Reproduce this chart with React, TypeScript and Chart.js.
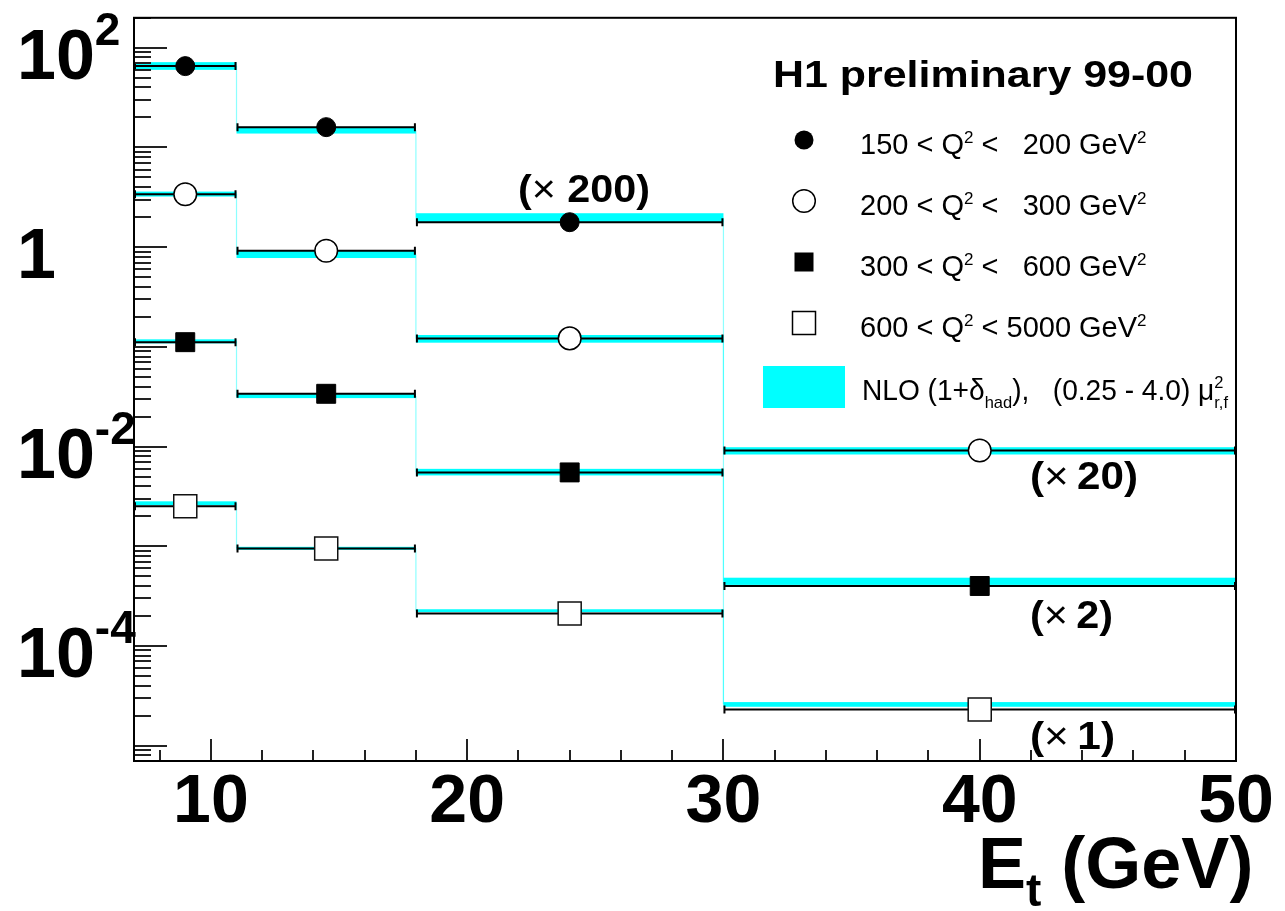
import React, { useEffect, useRef } from 'react';
import { Chart, registerables } from 'chart.js';
Chart.register(...registerables);

// ---------- data ----------
const binEdges = [7, 11, 18, 30, 50];
const binCenters = [9, 14.5, 24, 40];
const xTickValues = [10, 20, 30, 40, 50];
const xTickLabels = ['10', '20', '30', '40', '50'];
const xMinorTicks = [8, 12, 14, 16, 18, 22, 24, 26, 28, 32, 34, 36, 38, 42, 44, 46, 48];
const yLabelExponents = [2, 0, -2, -4];

// data points (scaled as in the plot)
const q150Data = [65.5, 16.0, 1.78, null]; // x200
const q200Data = [3.39, 0.92, 0.1216, 0.00912]; // x20
const q300Data = [0.1114, 0.0338, 0.0055, 3.99e-4]; // x2
const q600Data = [2.52e-3, 9.48e-4, 2.11e-4, 2.3e-5]; // x1

// NLO band low / high
const q150NloLow = [60.1, 13.8, 1.78, null];
const q150NloHigh = [71.8, 16.1, 2.19, null];
const q200NloLow = [3.22, 0.778, 0.1101, 0.00832];
const q200NloHigh = [3.61, 0.92, 0.1315, 0.00984];
const q300NloLow = [0.1084, 0.0306, 0.00513, 4.09e-4];
const q300NloHigh = [0.1189, 0.0338, 0.00597, 4.83e-4];
const q600NloLow = [2.57e-3, 9.2e-4, 2.18e-4, 2.45e-5];
const q600NloHigh = [2.82e-3, 9.86e-4, 2.33e-4, 2.73e-5];
// level that the x200 theory histogram drops to after its last bin
const q150NloDrop = 2.6e-5;

const legendLabels = [
  { lo: '150', hi: '200' },
  { lo: '200', hi: '300' },
  { lo: '300', hi: '600' },
  { lo: '600', hi: '5000' },
];
const scaleNotes = ['200', '20', '2', '1'];

const FONT = '"Liberation Sans", Arial, Helvetica, sans-serif';
const CYAN = '#00ffff';

type Seg = { t: string; size: number; bold?: boolean; dy?: number; noAdvance?: boolean };

function fontOf(s: Seg) {
  return `${s.bold ? 'bold ' : ''}${s.size}px ${FONT}`;
}

function segsWidth(ctx: CanvasRenderingContext2D, segs: Seg[]) {
  let w = 0;
  for (const s of segs) {
    ctx.font = fontOf(s);
    if (!s.noAdvance) w += ctx.measureText(s.t).width;
  }
  return w;
}

function drawSegs(
  ctx: CanvasRenderingContext2D,
  segs: Seg[],
  x: number,
  y: number,
  align: 'left' | 'center' | 'right' = 'left',
  targetWidth?: number,
  color = '#000'
) {
  const W = segsWidth(ctx, segs);
  const k = targetWidth ? targetWidth / W : 1;
  const x0 = align === 'center' ? x - (W * k) / 2 : align === 'right' ? x - W * k : x;
  ctx.save();
  ctx.translate(x0, y);
  ctx.scale(k, 1);
  ctx.fillStyle = color;
  ctx.textAlign = 'left';
  ctx.textBaseline = 'alphabetic';
  let cx = 0;
  for (const s of segs) {
    ctx.font = fontOf(s);
    ctx.fillText(s.t, cx, s.dy || 0);
    if (!s.noAdvance) cx += ctx.measureText(s.t).width;
  }
  ctx.restore();
}

type Series = {
  data: (number | null)[];
  low: (number | null)[];
  high: (number | null)[];
  drop?: number;
};

const seriesList: Series[] = [
  { data: q150Data, low: q150NloLow, high: q150NloHigh, drop: q150NloDrop },
  { data: q200Data, low: q200NloLow, high: q200NloHigh },
  { data: q300Data, low: q300NloLow, high: q300NloHigh },
  { data: q600Data, low: q600NloLow, high: q600NloHigh },
];

const toPoints = (arr: (number | null)[]) =>
  arr
    .map((v, i) => (v == null ? null : { x: binCenters[i], y: v }))
    .filter((p) => p !== null) as { x: number; y: number }[];

const h1Plugin = {
  id: 'h1plot',
  beforeDatasetsDraw(chart: any) {
    const ctx: CanvasRenderingContext2D = chart.ctx;
    const xs = chart.scales.x;
    const ys = chart.scales.y;
    const area = chart.chartArea;
    ctx.save();
    ctx.beginPath();
    ctx.rect(area.left, area.top, area.right - area.left, area.bottom - area.top);
    ctx.clip();
    // theory bands
    for (const s of seriesList) {
      ctx.fillStyle = CYAN;
      for (let i = 0; i < s.low.length; i++) {
        const lo = s.low[i];
        const hi = s.high[i];
        if (lo == null || hi == null) continue;
        const x1 = xs.getPixelForValue(binEdges[i]);
        const x2 = xs.getPixelForValue(binEdges[i + 1]);
        const y1 = ys.getPixelForValue(hi);
        const y2 = ys.getPixelForValue(lo);
        ctx.fillRect(x1, y1, x2 - x1, Math.max(2, y2 - y1));
      }
      // connectors
      ctx.strokeStyle = 'rgba(0,255,255,0.45)';
      ctx.lineWidth = 1.2;
      const mid = (i: number) => {
        const lo = s.low[i];
        const hi = s.high[i];
        if (lo == null || hi == null) return null;
        return Math.sqrt(lo * hi);
      };
      for (let i = 0; i < s.low.length - 1; i++) {
        const a = mid(i);
        let b = mid(i + 1);
        if (a == null) continue;
        if (b == null) b = s.drop ?? null;
        if (b == null) continue;
        const x = xs.getPixelForValue(binEdges[i + 1]);
        ctx.beginPath();
        ctx.moveTo(x, ys.getPixelForValue(a));
        ctx.lineTo(x, ys.getPixelForValue(b));
        ctx.stroke();
      }
    }
    // horizontal error bars
    ctx.strokeStyle = '#000';
    ctx.lineWidth = 2;
    for (const s of seriesList) {
      for (let i = 0; i < s.data.length; i++) {
        const v = s.data[i];
        if (v == null) continue;
        const x1 = xs.getPixelForValue(binEdges[i]);
        const x2 = xs.getPixelForValue(binEdges[i + 1]);
        const y = ys.getPixelForValue(v);
        ctx.beginPath();
        ctx.moveTo(x1, y);
        ctx.lineTo(x2, y);
        ctx.moveTo(x1 + 1, y - 4);
        ctx.lineTo(x1 + 1, y + 4);
        ctx.moveTo(x2 - 1, y - 4);
        ctx.lineTo(x2 - 1, y + 4);
        ctx.stroke();
      }
    }
    ctx.restore();
  },
  afterDraw(chart: any) {
    const ctx: CanvasRenderingContext2D = chart.ctx;
    const xs = chart.scales.x;
    const ys = chart.scales.y;
    const area = chart.chartArea;
    ctx.save();
    // ticks
    ctx.strokeStyle = '#222';
    ctx.lineWidth = 2;
    for (let d = -6; d <= 2; d++) {
      for (let m = 1; m <= 9; m++) {
        const v = m * Math.pow(10, d);
        if (v < ys.min || v > ys.max) continue;
        const y = Math.round(ys.getPixelForValue(v));
        const len = m === 1 ? 33 : 17;
        ctx.beginPath();
        ctx.moveTo(area.left, y);
        ctx.lineTo(area.left + len, y);
        ctx.stroke();
      }
    }
    for (const v of xTickValues) {
      const x = Math.round(xs.getPixelForValue(v));
      ctx.beginPath();
      ctx.moveTo(x, area.bottom);
      ctx.lineTo(x, area.bottom - 22);
      ctx.stroke();
    }
    for (const v of xMinorTicks) {
      const x = Math.round(xs.getPixelForValue(v));
      ctx.beginPath();
      ctx.moveTo(x, area.bottom);
      ctx.lineTo(x, area.bottom - 11);
      ctx.stroke();
    }
    // frame
    ctx.strokeStyle = '#000';
    ctx.lineWidth = 2;
    ctx.strokeRect(area.left, area.top, area.right - area.left, area.bottom - area.top);

    // y labels
    for (const e of yLabelExponents) {
      const y = ys.getPixelForValue(Math.pow(10, e));
      if (e === 0) {
        drawSegs(ctx, [{ t: '1', size: 70, bold: true }], 17, y + 31);
      } else {
        drawSegs(
          ctx,
          [
            { t: '10', size: 70, bold: true },
            { t: e < 0 ? '-' + Math.abs(e) : String(e), size: 46, bold: true, dy: -34 },
          ],
          17,
          y + 31
        );
      }
    }
    // x labels
    xTickValues.forEach((v, i) => {
      const x = xs.getPixelForValue(v);
      drawSegs(ctx, [{ t: xTickLabels[i], size: 68, bold: true }], x, 822, 'center');
    });
    // x title
    drawSegs(
      ctx,
      [
        { t: 'E', size: 72, bold: true },
        { t: 't', size: 46, bold: true, dy: 18 },
        { t: ' (GeV)', size: 72, bold: true },
      ],
      978,
      888
    );

    // legend
    drawSegs(ctx, [{ t: 'H1 preliminary 99-00', size: 36, bold: true }], 773, 87, 'left', 420);
    const lx = 804;
    const ly = [140, 201, 262, 323];
    // markers
    ctx.lineWidth = 1.5;
    ctx.strokeStyle = '#000';
    ctx.fillStyle = '#000';
    ctx.beginPath();
    ctx.arc(lx, ly[0], 9.5, 0, Math.PI * 2);
    ctx.fill();
    ctx.beginPath();
    ctx.arc(lx, ly[1], 11.3, 0, Math.PI * 2);
    ctx.fillStyle = '#fff';
    ctx.fill();
    ctx.stroke();
    ctx.fillStyle = '#000';
    ctx.fillRect(lx - 9.5, ly[2] - 9.5, 19, 19);
    ctx.fillStyle = '#fff';
    ctx.fillRect(lx - 11.5, ly[3] - 11.5, 23, 23);
    ctx.strokeRect(lx - 11.5, ly[3] - 11.5, 23, 23);
    ctx.fillStyle = CYAN;
    ctx.fillRect(763, 366, 82, 42);

    const tx = 860;
    const fs = 29;
    const sup = 17;
    const refPrefix: Seg[] = [
      { t: '600 < Q', size: fs },
      { t: '2', size: sup, dy: -11 },
      { t: ' < 5000', size: fs },
    ];
    const numEnd = tx + segsWidth(ctx, refPrefix);
    legendLabels.forEach((lab, i) => {
      const by = ly[i] + 14;
      drawSegs(
        ctx,
        [
          { t: lab.lo + ' < Q', size: fs },
          { t: '2', size: sup, dy: -11 },
          { t: ' <', size: fs },
        ],
        tx,
        by
      );
      drawSegs(ctx, [{ t: lab.hi, size: fs }], numEnd, by, 'right');
      drawSegs(
        ctx,
        [
          { t: ' GeV', size: fs },
          { t: '2', size: sup, dy: -11 },
        ],
        numEnd,
        by
      );
    });
    drawSegs(
      ctx,
      [
        { t: 'NLO (1+\u03b4', size: fs },
        { t: 'had', size: sup, dy: 8 },
        { t: '),   (0.25 - 4.0) \u03bc', size: fs },
        { t: '2', size: sup, dy: -12, noAdvance: true },
        { t: 'r,f', size: sup, dy: 8 },
      ],
      tx + 2,
      400,
      'left',
      366
    );

    // scale factor notes
    const notePos = [
      { x: 518, y: 202, w: 132 },
      { x: 1030, y: 489, w: 108 },
      { x: 1030, y: 628, w: 83 },
      { x: 1030, y: 749, w: 85 },
    ];
    scaleNotes.forEach((n, i) => {
      const p = notePos[i];
      drawSegs(
        ctx,
        [
          { t: '(', size: 38, bold: true },
          { t: '\u00d7', size: 38 },
          { t: n.length > 2 ? ' ' + n + ')' : '\u2009' + n + ')', size: 38, bold: true },
        ],
        p.x,
        p.y,
        'left',
        p.w
      );
    });
    ctx.restore();
  },
};

export default function App() {
  const ref = useRef<HTMLCanvasElement | null>(null);
  useEffect(() => {
    if (!ref.current) return;
    const chart = new Chart(ref.current, {
      type: 'scatter',
      data: {
        datasets: [
          {
            data: toPoints(q150Data),
            pointStyle: 'circle',
            pointRadius: 9.5,
            backgroundColor: '#000',
            borderColor: '#000',
            borderWidth: 1,
          },
          {
            data: toPoints(q200Data),
            pointStyle: 'circle',
            pointRadius: 11.3,
            backgroundColor: '#fff',
            borderColor: '#000',
            borderWidth: 1.5,
          },
          {
            data: toPoints(q300Data),
            pointStyle: 'rect',
            pointRadius: 13.4,
            backgroundColor: '#000',
            borderColor: '#000',
            borderWidth: 1,
          },
          {
            data: toPoints(q600Data),
            pointStyle: 'rect',
            pointRadius: 16.3,
            backgroundColor: '#fff',
            borderColor: '#111',
            borderWidth: 1.5,
          },
        ],
      },
      options: {
        responsive: false,
        animation: false,
        devicePixelRatio: 1,
        events: [],
        layout: { padding: { left: 134, right: 49, top: 14, bottom: 150 } },
        scales: {
          x: { type: 'linear', min: 7, max: 50, display: false },
          y: { type: 'logarithmic', min: 7e-6, max: 200, display: false },
        },
        plugins: { legend: { display: false }, tooltip: { enabled: false } },
      },
      plugins: [h1Plugin],
    });
    return () => chart.destroy();
  }, []);
  return (
    <div style={{ position: 'absolute', left: 0, top: 0, width: 1285, height: 911, background: '#fff' }}>
      <canvas ref={ref} width={1285} height={911} />
    </div>
  );
}
